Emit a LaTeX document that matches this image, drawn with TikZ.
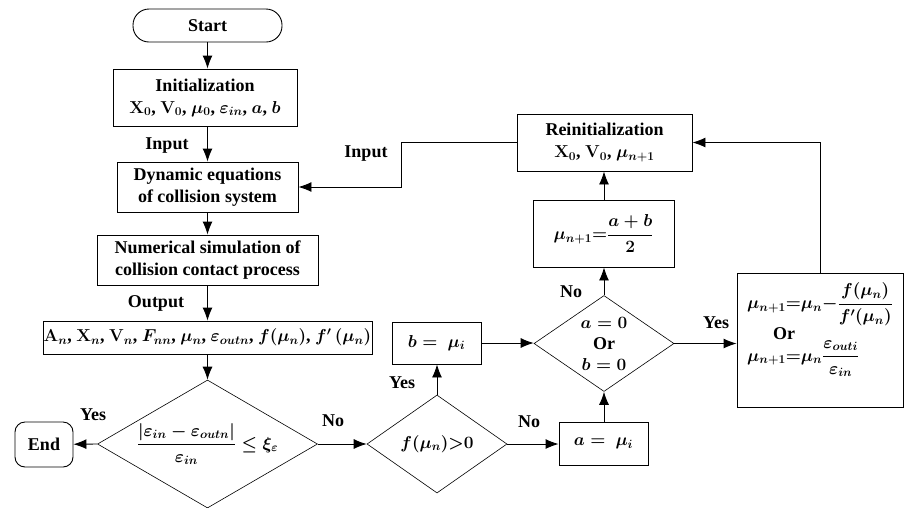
\documentclass[tikz,border=0pt]{standalone}
\usepackage{amsmath}
\usepackage{fontspec}
\setmainfont{Liberation Serif}
\usetikzlibrary{shapes.geometric,arrows.meta}
\tikzset{
	box/.style={draw, line width=0.9pt, align=center, inner sep=0pt},
	dia/.style={draw, diamond, line width=0.6pt, inner sep=0pt},
	arr/.style={-{Latex[length=13pt,width=10pt]}, line width=0.9pt},
}
\begin{document}
\begin{tikzpicture}[x=1pt,y=-1pt,font=\fontsize{18}{22}\selectfont\bfseries\boldmath]
		\useasboundingbox (0,0) rectangle (905,507);
		% main column
		\node[box, rounded corners=16pt, minimum width=149pt, minimum height=33pt] (start) at (207.5,25.5) {Start};
		\node[box, minimum width=184pt, minimum height=57pt] (init) at (205,97.5) {Initialization\\ $\mathbf{X}_0$, $\mathbf{V}_0$, $\mu_0$, $\varepsilon_{in}$, $a$, $b$};
		\node[box, minimum width=181pt, minimum height=50pt] (dyn) at (207.5,187) {Dynamic equations\\ of collision system};
		\node[box, minimum width=221pt, minimum height=50pt] (num) at (207.5,260) {Numerical simulation of\\ collision contact process};
		\node[box, minimum width=329pt, minimum height=33pt] (out) at (207.5,337.5) {$\mathbf{A}_n$, $\mathbf{X}_n$, $\mathbf{V}_n$, $F_{nn}$, $\mu_n$, $\varepsilon_{outn}$, $f(\mu_n)$, $f'\,(\mu_n)$};
		\node[dia, minimum width=220pt, minimum height=128pt, label=center:{$\displaystyle\frac{\left|\varepsilon_{in}-\varepsilon_{outn}\right|}{\varepsilon_{in}}\le\xi_{\varepsilon}$}] (chk) at (207.5,444) {};
		\node[box, rounded corners=10pt, minimum width=58pt, minimum height=45pt] (stop) at (44,444.5) {End};
		% bisection part
		\node[dia, minimum width=140pt, minimum height=98pt, label=center:{$f(\mu_n){>}0$}] (sign) at (437,444) {};
		\node[box, minimum width=89pt, minimum height=42pt] (bset) at (436.5,343) {$b=\ \mu_i$};
		\node[box, minimum width=89pt, minimum height=43pt] (aset) at (603.5,443.5) {$a=\ \mu_i$};
		\node[dia, minimum width=140pt, minimum height=96pt, label={[align=center, font=\fontsize{18}{21}\selectfont\bfseries\boldmath]center:$a=0$\\ Or\\ $b=0$}] (zero) at (604,343.5) {};
		\node[box, minimum width=141pt, minimum height=67pt] (mid) at (603.5,233.5) {$\mu_{n+1}{=}\dfrac{a+b}{2}$};
		\node[box, minimum width=175pt, minimum height=57pt] (reinit) at (604.5,142.5) {Reinitialization\\ $\mathbf{X}_0$, $\mathbf{V}_0$, $\mu_{n+1}$};
		\node[box, align=left, minimum width=166pt, minimum height=134pt] (newton) at (820,340) {$\mu_{n+1}{=}\mu_n{-}\dfrac{f(\mu_n)}{f'(\mu_n)}$\\ \hspace{26pt}Or\\ $\mu_{n+1}{=}\mu_n\dfrac{\varepsilon_{outi}}{\varepsilon_{in}}$\\[14pt]};
		\coordinate (bend) at (401,0);
		% connectors
		\draw[arr] (start.south) -- (start.south |- init.north);
		\draw[arr] (dyn.north |- init.south) -- (dyn.north);
		\draw[arr] (dyn) -- (num);
		\draw[arr] (num) -- (out);
		\draw[arr] (out) -- (chk.north);
		\draw[arr] (chk.west) -- (stop);
		\draw[arr] (chk.east) -- (sign.west);
		\draw[arr] (sign.north) -- (sign.north |- bset.south);
		\draw[arr] (bset.east) -- (bset.east -| zero.west);
		\draw[arr] (sign.east) -- (sign.east -| aset.west);
		\draw[arr] (zero.south |- aset.north) -- (zero.south);
		\draw[arr] (zero.north) -- (zero.north |- mid.south);
		\draw[arr] (zero.north |- mid.north) -- (zero.north |- reinit.south);
		\draw[arr] (zero.east) -- (zero.east -| newton.west);
		\draw[arr] (newton.north) |- (reinit.east);
		\draw[arr] (reinit.west) -| (bend |- dyn.east) -- (dyn.east);
		% labels
		\node (in1) at (167,146) {Input};
		\node (in2) at (366,154) {Input};
		\node (outl) at (156,303) {Output};
		\node (yes1) at (93,415) {Yes};
		\node (no1) at (333,421) {No};
		\node (yes2) at (402,383) {Yes};
		\node (no2) at (529,422) {No};
		\node (no3) at (571,292) {No};
		\node (yes3) at (716,323) {Yes};
\end{tikzpicture}
\end{document}
